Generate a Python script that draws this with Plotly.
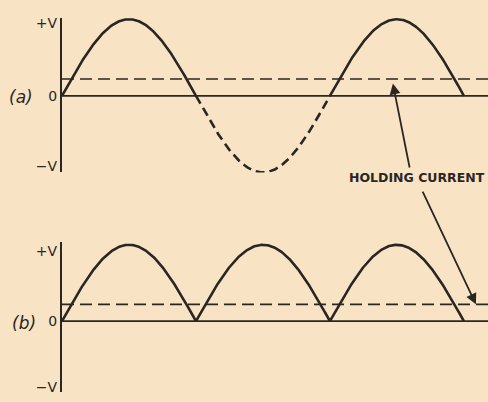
import numpy as np
import plotly.graph_objects as go
from plotly.subplots import make_subplots

# Diagram values (x in half-cycles, y in units of peak voltage V)
half_cycle_edges = [0, 1, 2, 3]
amplitude = 1.0
holding_level = 0.22
x_end = 3.18
samples_per_half = 200

y_tick_vals_a = [0.95, 0, -0.92]
y_tick_vals_b = [0.92, 0, -0.86]
y_tick_text = ["+V", "0", "\u2212V"]

panel_labels = ["(a)", "(b)"]
note_text = "HOLDING CURRENT"

ink = "#2b2622"
paper = "#f8e4c5"

fig = make_subplots(rows=2, cols=1)

def half_wave(start, rectify=False):
    t = np.linspace(start, start + 1, samples_per_half)
    y = amplitude * np.sin(np.pi * t)
    if rectify:
        y = np.abs(y)
    return t, y

# (a) plain sine: positive halves solid, negative half dashed
for i, start in enumerate(half_cycle_edges[:-1]):
    t, y = half_wave(start)
    dash = "solid" if i % 2 == 0 else "9px,5px"
    fig.add_trace(go.Scatter(x=t, y=y, mode="lines",
                             line=dict(color=ink, width=2.6, dash=dash)), row=1, col=1)

# (b) full-wave rectified
for start in half_cycle_edges[:-1]:
    t, y = half_wave(start, rectify=True)
    fig.add_trace(go.Scatter(x=t, y=y, mode="lines",
                             line=dict(color=ink, width=2.6)), row=2, col=1)

# zero lines and holding-current lines
for r in (1, 2):
    fig.add_trace(go.Scatter(x=[0, x_end], y=[0, 0], mode="lines",
                             line=dict(color=ink, width=1.6)), row=r, col=1)
    fig.add_trace(go.Scatter(x=[0, x_end], y=[holding_level, holding_level], mode="lines",
                             line=dict(color=ink, width=1.6, dash="12px,6px")), row=r, col=1)

fig.update_traces(showlegend=False, hoverinfo="skip", cliponaxis=False)

axis_font = dict(family="DejaVu Sans", size=14, color=ink)
fig.update_xaxes(range=[0, x_end], domain=[62 / 488, 1], visible=False)
fig.update_yaxes(showgrid=False, zeroline=False, showline=True, linewidth=2.2,
                 linecolor=ink, ticks="", tickfont=axis_font, ticktext=y_tick_text)
fig.update_yaxes(row=1, col=1, range=[-1.0, 1.019], domain=[1 - 172 / 402, 1 - 15 / 402],
                 tickvals=y_tick_vals_a)
fig.update_yaxes(row=2, col=1, range=[-0.929, 1.032], domain=[1 - 395 / 402, 1 - 243 / 402],
                 tickvals=y_tick_vals_b)

annotations = [
    dict(text=panel_labels[0], x=21 / 488, y=1 - 95 / 402),
    dict(text=panel_labels[1], x=24 / 488, y=1 - 325 / 402),
]
for a in annotations:
    a.update(xref="paper", yref="paper", showarrow=False, xanchor="center", yanchor="middle",
             font=dict(family="DejaVu Sans", size=17, color=ink, style="italic"))
fig.update_layout(annotations=annotations)

fig.add_annotation(text="<b>" + note_text + "</b>", xref="paper", yref="paper",
                   x=417 / 488, y=1 - 177 / 402, showarrow=False,
                   xanchor="center", yanchor="middle",
                   font=dict(family="DejaVu Sans", size=12.5, color=ink))

# arrows from the note to each holding-current line
fig.add_annotation(x=2.47, y=holding_level - 0.06, xref="x", yref="y",
                   ax=2.597, ay=-0.955, axref="x", ayref="y", text="",
                   showarrow=True, arrowhead=2, arrowsize=1.2, arrowwidth=1.8, arrowcolor=ink)
fig.add_annotation(x=3.09, y=holding_level, xref="x2", yref="y2",
                   ax=2.687, ay=1.716, axref="x2", ayref="y2", text="",
                   showarrow=True, arrowhead=2, arrowsize=1.2, arrowwidth=1.8, arrowcolor=ink)

fig.update_layout(width=488, height=402, margin=dict(l=0, r=0, t=0, b=0),
                  paper_bgcolor=paper, plot_bgcolor=paper)

fig.write_html("out.html", config={"displayModeBar": False},
               post_script="document.body.style.margin='0';document.body.style.background='%s';" % paper)
